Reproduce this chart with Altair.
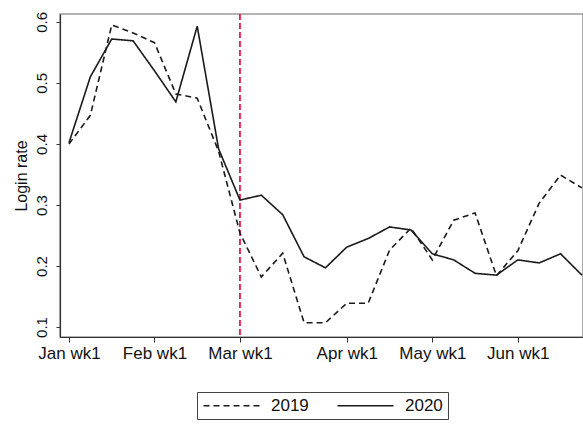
import altair as alt
import pandas as pd

# Weekly login rates, week 1 = first week of January
weeks = list(range(1, 26))
rate_2019 = [0.400, 0.447, 0.595, 0.582, 0.566, 0.482, 0.475, 0.388, 0.254,
             0.182, 0.221, 0.107, 0.107, 0.139, 0.139, 0.226, 0.262, 0.210,
             0.275, 0.287, 0.184, 0.225, 0.303, 0.349, 0.328]
rate_2020 = [0.402, 0.510, 0.572, 0.569, 0.520, 0.469, 0.593, 0.392, 0.308,
             0.316, 0.284, 0.215, 0.197, 0.231, 0.245, 0.264, 0.259, 0.220,
             0.210, 0.188, 0.185, 0.210, 0.205, 0.220, 0.185]

tick_weeks = [1, 5, 9, 14, 18, 22]
tick_labels = ["Jan wk1", "Feb wk1", "Mar wk1", "Apr wk1", "May wk1", "Jun wk1"]
y_ticks = [0.1, 0.2, 0.3, 0.4, 0.5, 0.6]
cutoff_week = [9]

df = pd.DataFrame({
    "week": weeks * 2,
    "rate": rate_2019 + rate_2020,
    "year": ["2019"] * len(weeks) + ["2020"] * len(weeks),
})
cut_df = pd.DataFrame({"week": cutoff_week})

label_expr = " : ".join(
    f"datum.value == {w} ? '{l}'" for w, l in zip(tick_weeks, tick_labels)
) + " : ''"

FONT = "Liberation Sans"

x_enc = alt.X(
    "week:Q",
    scale=alt.Scale(domain=[0.58, 25.05], nice=False, zero=False),
    axis=alt.Axis(values=tick_weeks, labelExpr=label_expr, title=None,
                  grid=False, tickSize=5, labelPadding=3, labelFontSize=17,
                  labelColor="#111111", domainColor="#333333",
                  tickColor="#333333", labelFlush=False, labelFont=FONT,
                  domainWidth=1.2),
)
y_enc = alt.Y(
    "rate:Q",
    scale=alt.Scale(domain=[0.0836, 0.613], nice=False, zero=False),
    axis=alt.Axis(values=y_ticks, format=".1f", title="Login rate",
                  grid=False, tickSize=4, labelPadding=7, labelFontSize=15,
                  labelAngle=270, labelAlign="center", labelBaseline="bottom",
                  labelColor="#111111", domainColor="#333333",
                  tickColor="#333333", labelFont=FONT, titleFont=FONT,
                  titleFontSize=16, titleFontWeight="normal",
                  titleColor="#111111", titlePadding=5, domainWidth=1.2),
)

lines = alt.Chart(df).mark_line(color="#1a1a1a", strokeWidth=1.6).encode(
    x=x_enc,
    y=y_enc,
    strokeDash=alt.StrokeDash(
        "year:N",
        scale=alt.Scale(domain=["2019", "2020"], range=[[6, 4], [1, 0]]),
        legend=alt.Legend(
            title=None, orient="none", legendX=137, legendY=378,
            direction="horizontal",
            # a long horizontal line sample in each entry
            symbolType="M-4,0L4,0", symbolSize=196, symbolOffset=21,
            symbolStrokeWidth=1.5, symbolStrokeColor="#1a1a1a",
            symbolFillColor="transparent",
            labelFontSize=17, labelFont=FONT, labelColor="#111111",
            labelOffset=31, columnPadding=25, strokeColor="#444444",
            fillColor="white", padding=5,
        ),
    ),
)

cutoff = alt.Chart(cut_df).mark_rule(
    color="#e8194a", strokeDash=[6, 3], strokeWidth=1.8
).encode(x="week:Q")

chart = (
    alt.layer(cutoff, lines)
    .properties(
        width=523, height=323, autosize="none",
        padding={"left": 60, "top": 14, "right": 0, "bottom": 87},
        background="white",
    )
    .configure_view(stroke="#9a9a9a", strokeWidth=1.6)
)

chart.save("out.html", embed_options={"renderer": "svg", "actions": False})
